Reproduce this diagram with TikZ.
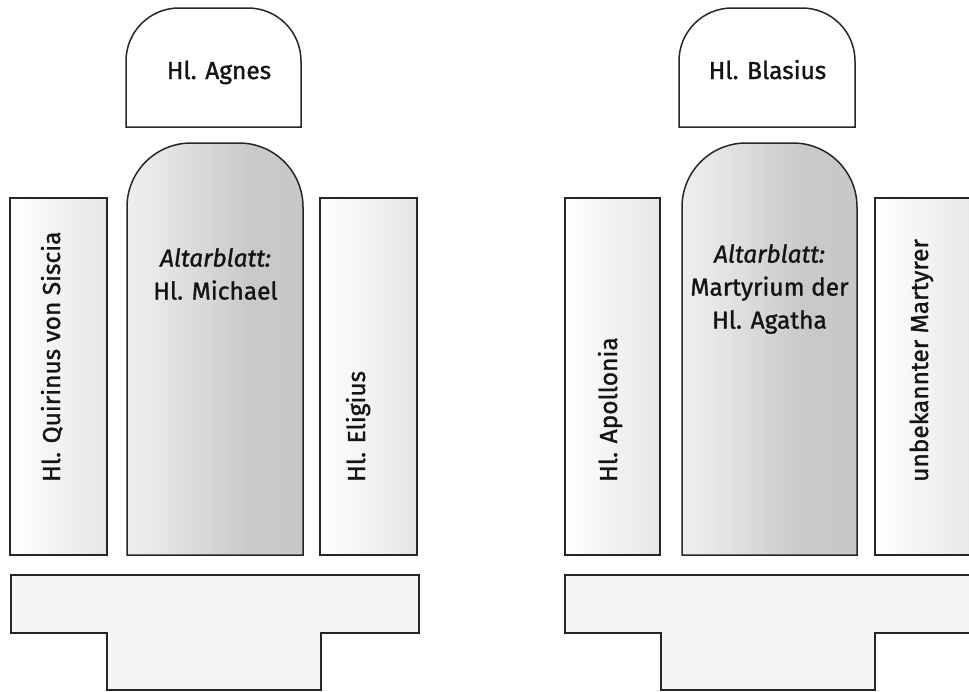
\documentclass[tikz,border=0pt]{standalone}
\usepackage{fontspec}
\setmainfont{Fira Sans}[FakeBold=1.2]
\pgfdeclarehorizontalshading{altarshade}{100bp}{color(0bp)=(white); color(30bp)=(white!92!black); color(60bp)=(black!21); color(100bp)=(black!23)}
\tikzset{
  outl/.style={draw=black!85, line width=1.5pt, line join=miter},
  topbox/.style={outl, fill=white, rounded corners=53pt},
  altar/.style={outl, shading=altarshade, rounded corners=64pt},
  panel/.style={outl, left color=white, right color=black!10},
  base/.style={outl, fill=black!4},
  lbl/.style={inner sep=0pt, font=\fontsize{24.5}{33}\selectfont, text=black!92},
  vlbl/.style={lbl, rotate=90, anchor=base west},
}
\begin{document}
\begin{tikzpicture}[x=1pt,y=-1pt]
\useasboundingbox (0,0) rectangle (969,691);
\begin{scope}
\clip (0,0) rectangle (969,691);
% left group
\draw[topbox] (126,127) -- (126,8) -- (301,8) [sharp corners] -- (301,127) -- cycle;
\draw[altar] (127,555) -- (127,143) -- (303,143) [sharp corners] -- (303,555) -- cycle;
\draw[panel] (10,198) rectangle (107,555);
\draw[panel] (320,198) rectangle (417,555);
\draw[base] (11,575) -- (419,575) -- (419,633) -- (321,633) -- (321,690) -- (107,690) -- (107,633) -- (11,633) -- cycle;
% right group
\draw[topbox] (679,127) -- (679,8) -- (855,8) [sharp corners] -- (855,127) -- cycle;
\draw[altar] (682,555) -- (682,143) -- (857,143) [sharp corners] -- (857,555) -- cycle;
\draw[panel] (565,198) rectangle (660,555);
\draw[panel] (875,198) rectangle (980,555);
\draw[base] (565,575) -- (980,575) -- (980,633) -- (875,633) -- (875,690) -- (661,690) -- (661,633) -- (565,633) -- cycle;
\end{scope}
% labels
\node[lbl, anchor=base] (agnes) at (219,79) {Hl. Agnes};
\node[lbl, anchor=base] (blasius) at (767.5,79) {Hl. Blasius};
\node[lbl, align=center] (michael) at (215.5,274) {\textit{Altarblatt:}\\Hl. Michael};
\node[lbl, align=center] (agatha) at (769.5,289) {\textit{Altarblatt:}\\Martyrium der\\Hl. Agatha};
\node[vlbl] (quirinus) at (60,482) {Hl. Quirinus von Siscia};
\node[vlbl] (eligius) at (365,482) {Hl. Eligius};
\node[vlbl] (apollonia) at (617,482) {Hl. Apollonia};
\node[vlbl] (martyrer) at (928,482) {unbekannter Martyrer};
\end{tikzpicture}
\end{document}
